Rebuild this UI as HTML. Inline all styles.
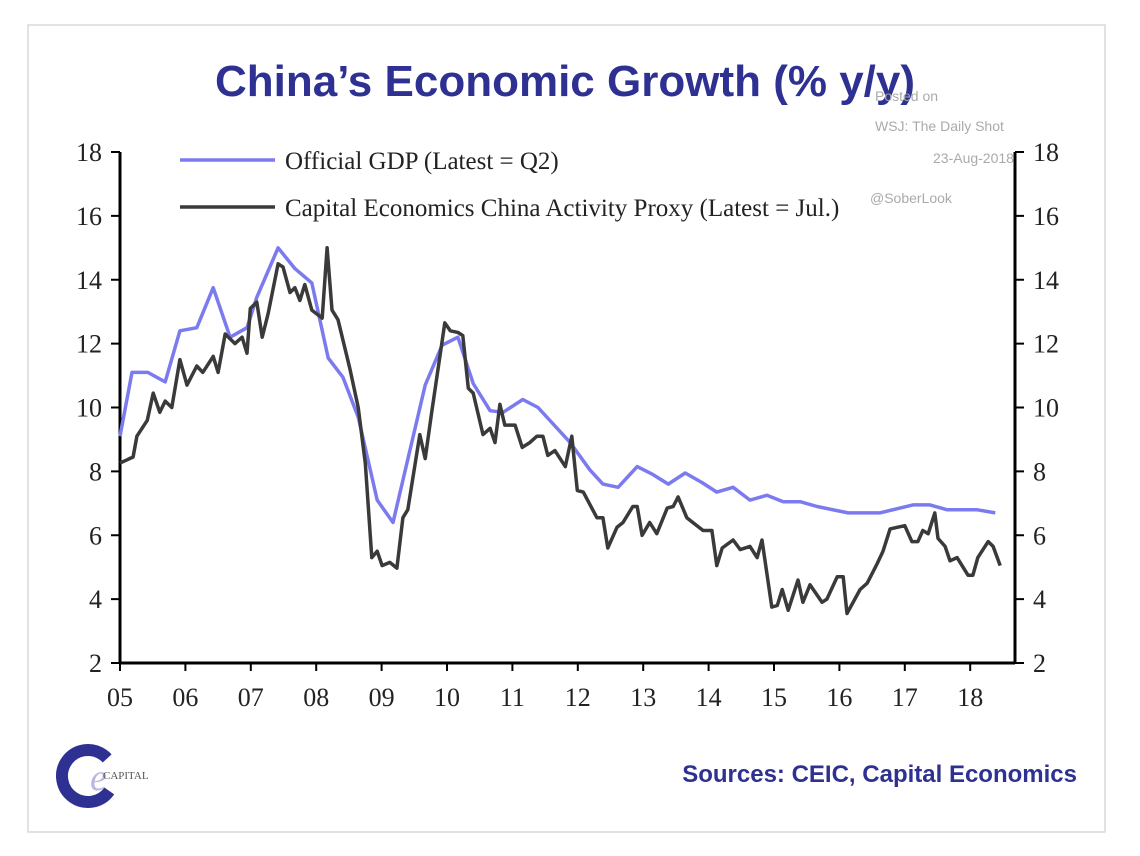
<!DOCTYPE html>
<html><head><meta charset="utf-8">
<style>
html,body{margin:0;padding:0;background:#fff;}
body{width:1140px;height:856px;overflow:hidden;}
svg{display:block;}
</style></head>
<body>
<svg id="chart" width="1140" height="856" viewBox="0 0 1140 856">
<rect x="28" y="25" width="1077" height="807" fill="#fff" stroke="#d8d8d8" stroke-width="1.5"/>
<text x="565" y="96" text-anchor="middle" font-family="Liberation Sans, sans-serif" font-weight="bold" font-size="44" fill="#2e3192">China’s Economic Growth (% y/y)</text>
<g font-family="Liberation Sans, sans-serif" font-size="14" fill="#aaa">
<text x="875" y="101">Posted on</text>
<text x="875" y="131">WSJ: The Daily Shot</text>
<text x="933" y="163">23-Aug-2018</text>
<text x="870" y="203">@SoberLook</text>
</g>
<g id="axes"></g>
<g id="series"></g>
<g>
<line x1="180" y1="160" x2="275" y2="160" stroke="#7b7bef" stroke-width="3.5"/>
<text x="285" y="169" font-family="Liberation Serif, serif" font-size="25" fill="#222">Official GDP (Latest = Q2)</text>
<line x1="180" y1="207" x2="275" y2="207" stroke="#3a3a3a" stroke-width="3.5"/>
<text x="285" y="216" font-family="Liberation Serif, serif" font-size="25" fill="#222">Capital Economics China Activity Proxy (Latest = Jul.)</text>
</g>
<g>
<circle cx="88" cy="776" r="26" fill="none" stroke="#2e3192" stroke-width="12" stroke-dasharray="128 36" transform="rotate(35 88 776)"/>
<text x="90" y="790" font-family="Liberation Serif, serif" font-style="italic" font-size="38" fill="#b9b9e0">e</text>
<text x="103" y="779" font-family="Liberation Serif, serif" font-size="11" fill="#555">CAPITAL</text>
</g>
<text x="1077" y="782" text-anchor="end" font-family="Liberation Sans, sans-serif" font-weight="bold" font-size="24" fill="#2e3192">Sources: CEIC, Capital Economics</text>
</svg>
<script>
// months since Jan 2005
const gdpMonths=[0,2.2,5.1,8.3,11,14.1,17.1,20.2,23.3,25.1,29,32.1,35.2,38.2,40.9,43.7,47.2,50.1,56,59.1,62,64.8,67.9,70.3,73.9,76.7,82.6,86.2,88.6,91.4,94.9,97.8,100.6,103.7,106.8,109.5,112.5,115.6,118.7,121.7,124.8,127.9,133.6,139.4,145.5,148.6,151.7,157.2,160.6];
const gdpValues=[9.1,11.1,11.1,10.8,12.4,12.5,13.75,12.2,12.5,13.45,15,14.35,13.9,11.55,10.95,9.7,7.1,6.4,10.7,11.95,12.2,10.75,9.9,9.85,10.25,10,8.9,8.05,7.6,7.5,8.15,7.9,7.6,7.95,7.65,7.35,7.5,7.1,7.25,7.05,7.05,6.9,6.7,6.7,6.95,6.95,6.8,6.8,6.7];
const proxyMonths=[0,2.4,3.1,5,6.1,7.3,8.3,9.5,11,12.3,14.1,15.2,17.1,18,19.3,21.1,22.4,23.3,23.9,25.1,26.1,27.2,29,29.9,31.2,32.1,33,33.9,35.2,37.1,38,38.9,40,42.2,43.7,45,46.2,47.2,48.1,49.5,50.8,51.9,52.8,55,56,57.2,59.6,60.6,62,62.9,63.9,64.8,66.6,67.9,68.8,69.7,70.6,72.5,73.8,75.2,76.5,77.6,78.5,79.8,81.7,82.9,83.9,85,87.5,88.6,89.5,91.2,92.3,94.1,94.9,95.8,97.2,98.5,100.4,101.5,102.4,104,105.1,107,108.6,109.5,110.5,112.5,113.8,115.6,116.9,117.8,119.6,120.6,121.5,122.6,124.4,125.3,126.6,128.8,129.7,131.6,132.7,133.4,135.8,137.1,138.9,140,141.3,142.6,144,145.3,146.4,147.3,148.3,149.5,150.1,151.4,152.3,153.6,155.6,156.5,157.4,159.3,160.2,161.5];
const proxyValues=[8.26,8.45,9.1,9.6,10.45,9.85,10.2,10,11.5,10.7,11.3,11.1,11.6,11.1,12.3,12,12.2,11.7,13.1,13.3,12.2,12.95,14.5,14.4,13.6,13.75,13.35,13.85,13.05,12.8,15,13.05,12.75,11.2,10,8.26,5.3,5.5,5.05,5.15,4.97,6.55,6.8,9.15,8.4,9.85,12.65,12.4,12.35,12.25,10.6,10.45,9.15,9.35,8.9,10.1,9.45,9.45,8.75,8.9,9.1,9.1,8.5,8.65,8.15,9.1,7.4,7.35,6.55,6.55,5.6,6.25,6.4,6.9,6.9,6,6.4,6.05,6.85,6.9,7.2,6.55,6.4,6.15,6.15,5.05,5.6,5.85,5.55,5.65,5.3,5.85,3.75,3.8,4.3,3.65,4.6,3.9,4.45,3.9,4,4.7,4.7,3.55,4.3,4.5,5.1,5.5,6.2,6.25,6.3,5.8,5.8,6.15,6.05,6.7,5.9,5.65,5.2,5.3,4.75,4.75,5.3,5.8,5.65,5.05];
const yTicks=[2,4,6,8,10,12,14,16,18];
const xTickLabels=["05","06","07","08","09","10","11","12","13","14","15","16","17","18"];

const X0=120,X1=1015,Ytop=152,Ybot=663;
const xScale=m=>X0+m*(65.4/12);
const yScale=v=>Ybot-(v-2)*(Ybot-Ytop)/16;
const NS="http://www.w3.org/2000/svg";
const axes=document.getElementById('axes');
const series=document.getElementById('series');
function mk(tag,attrs,parent){const e=document.createElementNS(NS,tag);for(const k in attrs)e.setAttribute(k,attrs[k]);parent.appendChild(e);return e;}

let el=mk('line',{x1:X0,y1:Ytop,x2:X0,y2:Ybot+1,stroke:'#000','stroke-width':3},axes);


el=mk('line',{x1:X1,y1:Ytop,x2:X1,y2:Ybot+1,stroke:'#000','stroke-width':3},axes);


el=mk('line',{x1:X0,y1:Ybot,x2:X1,y2:Ybot,stroke:'#000','stroke-width':3},axes);



yTicks.forEach(v=>{
  const y=yScale(v);
  mk('line',{x1:X0-9,y1:y,x2:X0,y2:y,stroke:'#000','stroke-width':2},axes);
  mk('line',{x1:X1,y1:y,x2:X1+9,y2:y,stroke:'#000','stroke-width':2},axes);
  let t=mk('text',{x:X0-18,y:y+9,'text-anchor':'end','font-family':'Liberation Serif, serif','font-size':26,fill:'#222'},axes);
  t.textContent=v;
  
  
  t=mk('text',{x:X1+18,y:y+9,'text-anchor':'start','font-family':'Liberation Serif, serif','font-size':26,fill:'#222'},axes);
  t.textContent=v;
  
  
});
xTickLabels.forEach((lab,i)=>{
  const x=xScale(i*12);
  mk('line',{x1:x,y1:Ybot,x2:x,y2:Ybot+8,stroke:'#000','stroke-width':2},axes);
  const t=mk('text',{x:x,y:706,'text-anchor':'middle','font-family':'Liberation Serif, serif','font-size':26,fill:'#222'},axes);
  t.textContent=lab;
  
  
});
function pts(ms,vs){return ms.map((m,i)=>xScale(m).toFixed(1)+','+yScale(vs[i]).toFixed(1)).join(' ');}
el=mk('polyline',{points:pts(gdpMonths,gdpValues),fill:'none',stroke:'#7b7bef','stroke-width':3.5,'stroke-linejoin':'round'},series);


el=mk('polyline',{points:pts(proxyMonths,proxyValues),fill:'none',stroke:'#3a3a3a','stroke-width':3.5,'stroke-linejoin':'round'},series);


</script>
</body></html>
